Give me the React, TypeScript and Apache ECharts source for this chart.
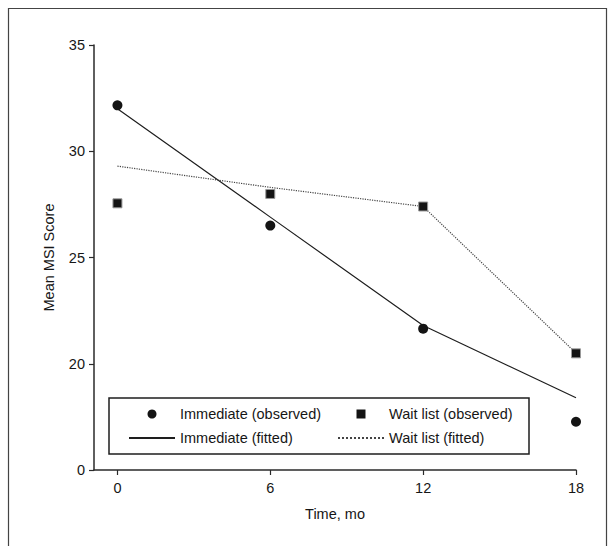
import React, { useEffect, useRef } from "react";
import * as echarts from "echarts";

const months = [0, 6, 12, 18];
const immediateObserved = [32.16, 26.5, 21.65, 17.27];
const waitObserved = [27.55, 27.99, 27.4, 20.49];
const immediateFitted = [32.0, 26.9, 21.8, 18.4];
const waitFitted = [29.3, 28.3, 27.4, 20.5];
const yTicks = [15, 20, 25, 30, 35];
const yTickLabels = ["0", "20", "25", "30", "35"];
const xTicks = [0, 6, 12, 18];

const FONT = "'Liberation Sans', Arial, sans-serif";
const INK = "#161616";
const FS = 14.5;

const pairs = (ys: number[]) => months.map((m, i) => [m, ys[i]]);

export default function App() {
  const ref = useRef<HTMLDivElement>(null);
  useEffect(() => {
    if (!ref.current) return;
    const chart = echarts.init(ref.current, undefined, { renderer: "svg" });
    const legendText = { fontSize: FS, lineHeight: 16, color: INK, fontFamily: FONT };
    chart.setOption({
      animation: false,
      backgroundColor: "#ffffff",
      textStyle: { fontFamily: FONT, color: INK },
      grid: { left: 94, right: 38, top: 45, bottom: 76 },
      xAxis: {
        type: "value",
        min: -0.92,
        max: 18,
        name: "Time, mo",
        nameLocation: "middle",
        nameGap: 36,
        nameTextStyle: { fontSize: FS, color: INK, fontFamily: FONT },
        axisLine: { show: true, onZero: false, lineStyle: { color: "#2a2a2a", width: 1.5 } },
        axisTick: { show: true, length: 5, customValues: xTicks, lineStyle: { color: "#2a2a2a", width: 1.2 } },
        axisLabel: { customValues: xTicks, margin: 10, fontSize: FS, color: INK, fontFamily: FONT },
        splitLine: { show: false },
      },
      yAxis: {
        type: "value",
        min: 15,
        max: 35,
        interval: 5,
        name: "Mean MSI Score",
        nameLocation: "middle",
        nameGap: 38,
        nameTextStyle: { fontSize: FS, color: INK, fontFamily: FONT },
        axisLine: { show: true, onZero: false, lineStyle: { color: "#2a2a2a", width: 1.5 } },
        axisTick: { show: true, length: 5, lineStyle: { color: "#2a2a2a", width: 1.2 } },
        axisLabel: {
          margin: 9,
          fontSize: FS,
          color: INK,
          fontFamily: FONT,
          formatter: (v: number) => {
            const i = yTicks.indexOf(v);
            return i >= 0 ? yTickLabels[i] : String(v);
          },
        },
        splitLine: { show: false },
      },
      legend: [
        {
          orient: "vertical",
          left: 128,
          top: 406,
          padding: 0,
          itemGap: 8,
          itemWidth: 46,
          itemHeight: 9,
          symbolKeepAspect: true,
          data: [
            { name: "Immediate (observed)", icon: "circle" },
            { name: "Immediate (fitted)", itemStyle: { opacity: 0 } },
          ],
          textStyle: legendText,
        },
        {
          orient: "vertical",
          left: 337,
          top: 406,
          padding: 0,
          itemGap: 8,
          itemWidth: 46,
          itemHeight: 9,
          symbolKeepAspect: true,
          data: [
            {
              name: "Wait list (observed)",
              icon: "path://M0,0H10V10H0Z",
              itemStyle: { borderWidth: 0 },
            },
            { name: "Wait list (fitted)", itemStyle: { opacity: 0 } },
          ],
          textStyle: legendText,
        },
      ],
      graphic: [
        {
          type: "rect",
          shape: { x: 8.5, y: 8.5, width: 598, height: 580 },
          style: { fill: "none", stroke: "#444", lineWidth: 1.2 },
          silent: true,
          z: 0,
        },
        {
          type: "rect",
          shape: { x: 109, y: 398, width: 420, height: 56 },
          style: { fill: "#fff", stroke: "#1e1e1e", lineWidth: 1.5 },
          silent: true,
          z: 1,
        },
      ],
      series: [
        {
          name: "Immediate (fitted)",
          type: "line",
          data: pairs(immediateFitted),
          showSymbol: false,
          symbol: "none",
          lineStyle: { color: "#1e1e1e", width: 1.2, type: "solid" },
          itemStyle: { color: "#1e1e1e" },
          z: 3,
        },
        {
          name: "Wait list (fitted)",
          type: "line",
          data: pairs(waitFitted),
          showSymbol: false,
          symbol: "none",
          lineStyle: { color: "#444", width: 1.2, type: "dotted" },
          itemStyle: { color: "#444" },
          z: 3,
        },
        {
          name: "Immediate (observed)",
          type: "scatter",
          data: pairs(immediateObserved),
          symbol: "circle",
          symbolSize: 10,
          itemStyle: { color: "#141414", opacity: 1 },
          z: 4,
        },
        {
          name: "Wait list (observed)",
          type: "scatter",
          data: pairs(waitObserved),
          symbol: "rect",
          symbolSize: 9,
          itemStyle: { color: "#141414", borderColor: "#999", borderWidth: 1, opacity: 1 },
          z: 4,
        },
      ],
    });
    return () => chart.dispose();
  }, []);
  return (
    <div
      ref={ref}
      style={{ position: "fixed", left: 0, top: 0, width: 614, height: 546, background: "#fff" }}
    />
  );
}
